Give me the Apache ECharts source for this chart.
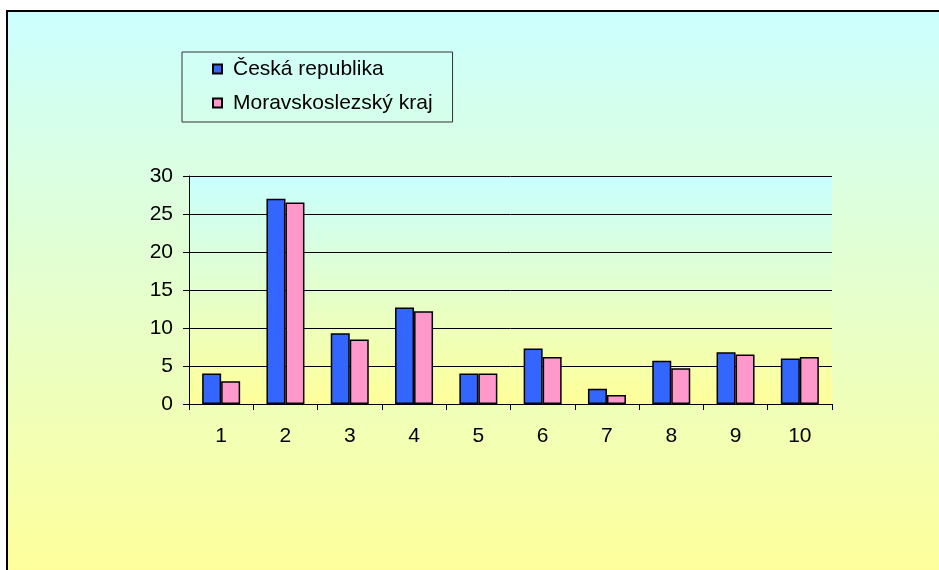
<!DOCTYPE html>
<html>
<head>
<meta charset="utf-8">
<script src="https://cdn.jsdelivr.net/npm/echarts@6/dist/echarts.min.js"></script>
<style>
  html, body { margin: 0; padding: 0; background: #fff; }
  #main { width: 939px; height: 570px; }
</style>
</head>
<body>
<div id="main"></div>
<script>
var categories = ['1', '2', '3', '4', '5', '6', '7', '8', '9', '10'];
var ceskaRepublika = [4, 27, 9.3, 12.7, 4, 7.3, 2, 5.7, 6.8, 6];
var moravskoslezsky = [3, 26.5, 8.5, 12.2, 4, 6.2, 1.2, 4.7, 6.5, 6.2];
var yTicks = [0, 5, 10, 15, 20, 25, 30];

var chart = echarts.init(document.getElementById('main'), null, { renderer: 'canvas' });

var font = 'Liberation Sans, Arial, sans-serif';

var option = {
  backgroundColor: '#fff',
  animation: false,
  graphic: [{
    type: 'rect',
    z: -10,
    shape: { x: 7, y: 11, width: 940, height: 570 },
    style: {
      fill: new echarts.graphic.LinearGradient(0, 0, 0, 1, [
        { offset: 0, color: '#ccffff' },
        { offset: 1, color: '#ffff99' }
      ]),
      stroke: '#000',
      lineWidth: 2
    }
  }],
  legend: {
    orient: 'vertical',
    left: 182,
    top: 52,
    padding: [5, 20, 7, 30],
    itemGap: 10,
    itemWidth: 9,
    itemHeight: 9,
    icon: 'rect',
    borderColor: '#333',
    borderWidth: 1,
    textStyle: { fontFamily: font, fontSize: 21, color: '#000', padding: [0, 0, 0, 6], lineHeight: 24 },
    data: ['Česká republika', 'Moravskoslezský kraj']
  },
  grid: {
    left: 189,
    top: 176,
    width: 643,
    height: 228,
    show: true,
    borderWidth: 0,
    backgroundColor: new echarts.graphic.LinearGradient(0, 0, 0, 1, [
      { offset: 0, color: '#c8ffff' },
      { offset: 1, color: '#ffff99' }
    ])
  },
  xAxis: {
    type: 'category',
    data: categories,
    axisLine: { lineStyle: { color: '#000', width: 1 } },
    axisTick: { show: true, length: 6, lineStyle: { color: '#000' } },
    axisLabel: { margin: 22, fontFamily: font, fontSize: 21, color: '#000' }
  },
  yAxis: {
    type: 'value',
    min: yTicks[0],
    max: yTicks[yTicks.length - 1],
    interval: 5,
    axisLine: { show: true, lineStyle: { color: '#000', width: 1 } },
    axisTick: { show: true, length: 6, lineStyle: { color: '#000' } },
    axisLabel: { margin: 16, fontFamily: font, fontSize: 21, color: '#000' },
    splitLine: { show: true, lineStyle: { color: '#000', width: 1 } }
  },
  series: [{
    name: 'Česká republika',
    type: 'bar',
    barWidth: 19,
    barGap: '0%',
    itemStyle: { color: '#3366ff', borderColor: '#000', borderWidth: 1.5 },
    data: ceskaRepublika
  }, {
    name: 'Moravskoslezský kraj',
    type: 'bar',
    barWidth: 19,
    barGap: '0%',
    itemStyle: { color: '#ff99cc', borderColor: '#000', borderWidth: 1.5 },
    data: moravskoslezsky
  }]
};

chart.setOption(option);
</script>
</body>
</html>
